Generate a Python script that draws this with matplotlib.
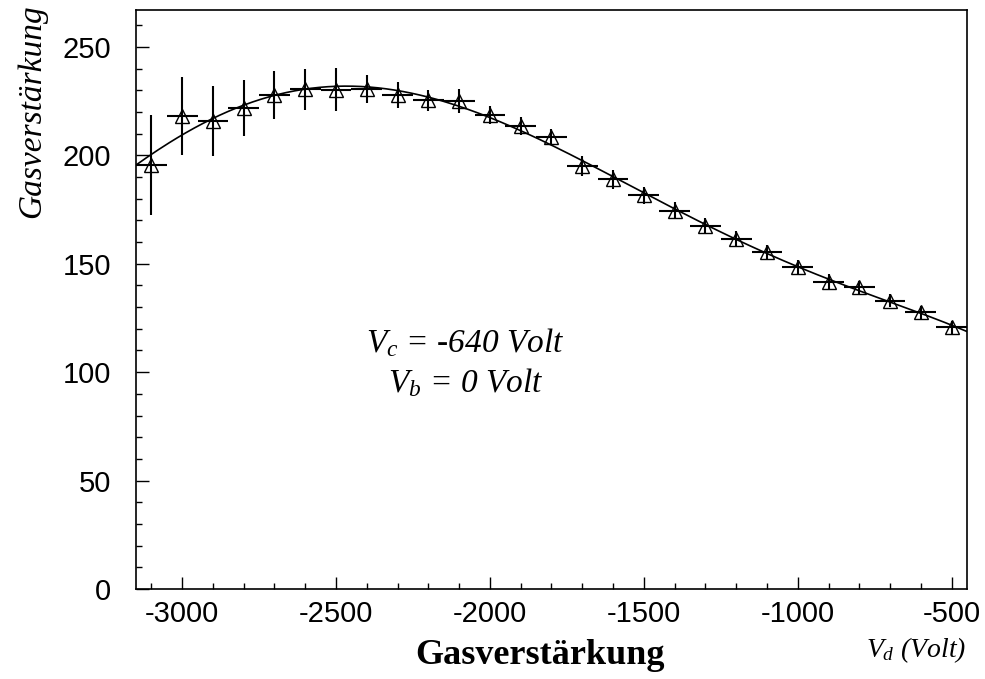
import numpy as np
import matplotlib
matplotlib.use("Agg")
import matplotlib.pyplot as plt
from matplotlib.ticker import MultipleLocator

# Daten
vd = [-3100, -3000, -2900, -2800, -2700, -2600, -2500, -2400, -2300, -2200,
      -2100, -2000, -1900, -1800, -1700, -1600, -1500, -1400, -1300, -1200,
      -1100, -1000, -900, -800, -700, -600, -500]
gain = [195.5, 218, 215.8, 221.8, 227.8, 230.4, 230.3, 230.7, 228, 225.3,
        225, 218.7, 213.5, 208.5, 195.1, 188.9, 181.6, 174.5, 167.4, 161.6,
        155.3, 148.4, 141.6, 139.2, 132.9, 127.6, 120.7]
gain_err = [23, 18, 16, 13, 11, 9.5, 10, 6.5, 6, 5,
            5.7, 4.2, 4, 3.5, 4.6, 4.4, 4, 4, 3.5, 3.5,
            3.5, 3.5, 3.5, 3, 3, 3, 3]
vd_err = [50] * len(vd)

plt.rcParams['mathtext.fontset'] = 'custom'
plt.rcParams['mathtext.it'] = 'Liberation Serif:italic'
plt.rcParams['mathtext.rm'] = 'Liberation Serif:italic'
plt.rcParams['axes.unicode_minus'] = False

fig = plt.figure(figsize=(9.85, 6.79), dpi=100)
ax = fig.add_axes([136/985, 1-589/679, (967-136)/985, (589-10)/679])

ax.errorbar(vd, gain, xerr=vd_err, yerr=gain_err, fmt='^', mfc='none', mec='k',
            ms=10, mew=1.0, ecolor='k', elinewidth=1.5, capsize=0)

# Fit (Polynom)
p = np.polyfit(vd, gain, 5)
xf = np.linspace(-3150, -450, 300)
ax.plot(xf, np.polyval(p, xf), color='k', lw=1.2)

ax.set_xlim(-3150, -450)
ax.set_ylim(0, 267)
ax.xaxis.set_major_locator(MultipleLocator(500))
ax.xaxis.set_minor_locator(MultipleLocator(100))
ax.yaxis.set_major_locator(MultipleLocator(50))
ax.yaxis.set_minor_locator(MultipleLocator(10))
ax.tick_params(which='both', direction='in', top=False, right=False,
               labelsize=21, width=1)
ax.tick_params(which='major', length=9)
ax.tick_params(which='minor', length=4)
ax.tick_params(axis='x', pad=8)
ax.tick_params(axis='y', pad=18)
for lab in ax.get_xticklabels() + ax.get_yticklabels():
    lab.set_family('Liberation Sans')
for s in ax.spines.values():
    s.set_linewidth(1.2)

ser = 'Liberation Serif'
ax.text(-2080, 109, r'$V_c$ = -640 Volt', family=ser, style='italic', fontsize=24,
        ha='center', va='baseline')
ax.text(-2080, 90.8, r'$V_b$ = 0 Volt', family=ser, style='italic', fontsize=24,
        ha='center', va='baseline')

fig.text(540/985, 1-655/679, 'Gasverstärkung', family=ser, weight='bold',
         fontsize=26, ha='center', va='center')
fig.text(966/985, 1-650/679, r'$V_d$ (Volt)', family=ser, style='italic',
         fontsize=20, ha='right', va='center')
fig.text(32/985, 1-4/679, 'Gasverstärkung', family=ser, style='italic',
         fontsize=24, ha='center', va='top', rotation=90)

fig.savefig('out.png', dpi=100)
